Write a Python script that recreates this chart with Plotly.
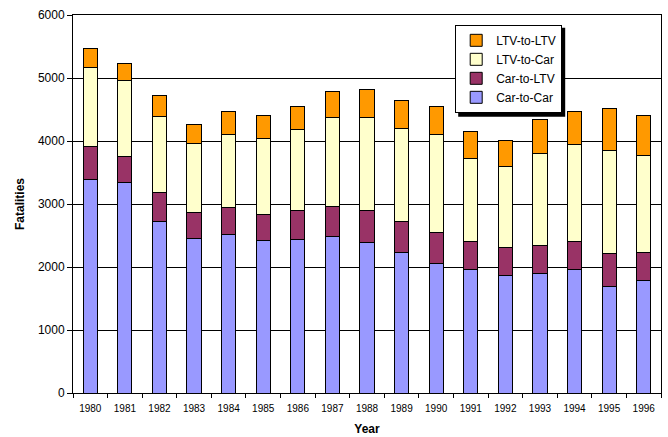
import plotly.graph_objects as go

# Values.
years = [str(y) for y in range(1980, 1997)]
car_to_car = [3395, 3337, 2728, 2458, 2511, 2421, 2442, 2489, 2394, 2235, 2050, 1960, 1859, 1901, 1960, 1690, 1780]
car_to_ltv = [519, 413, 461, 407, 439, 413, 455, 472, 498, 493, 503, 439, 450, 440, 439, 519, 450]
ltv_to_car = [1245, 1213, 1202, 1102, 1155, 1213, 1293, 1419, 1488, 1467, 1547, 1319, 1282, 1457, 1547, 1647, 1536]
ltv_to_ltv = [312, 275, 328, 291, 360, 365, 365, 413, 440, 455, 444, 440, 418, 551, 519, 662, 641]
y_ticks = [0, 1000, 2000, 3000, 4000, 5000, 6000]

series = [
    ("Car-to-Car", car_to_car, "#9999FF"),
    ("Car-to-LTV", car_to_ltv, "#993366"),
    ("LTV-to-Car", ltv_to_car, "#FFFFCC"),
    ("LTV-to-LTV", ltv_to_ltv, "#FF9900"),
]

fig = go.Figure()
for name, vals, colour in series:
    fig.add_trace(
        go.Bar(
            x=years,
            y=vals,
            name=name,
            marker={"color": colour, "line": {"color": "black", "width": 1}},
        )
    )

legend_x, legend_y = 0.65, 0.974

fig.update_layout(
    width=668,
    height=437,
    barmode="stack",
    bargap=0.59,
    plot_bgcolor="white",
    paper_bgcolor="white",
    font={"family": "Liberation Sans, Arial, sans-serif", "color": "black", "size": 12},
    margin={"l": 73, "r": 7, "t": 15, "b": 44},
    legend={
        "x": legend_x,
        "y": legend_y,
        "xanchor": "left",
        "yanchor": "top",
        "traceorder": "reversed",
        "bgcolor": "white",
        "bordercolor": "black",
        "borderwidth": 1,
        "font": {"size": 12},
        "itemwidth": 30,
        "tracegroupgap": 0,
    },
)

# Drop shadow behind the legend box.
fig.add_shape(
    type="rect",
    xref="paper", yref="paper",
    xsizemode="pixel", ysizemode="pixel",
    xanchor=legend_x, yanchor=legend_y,
    x0=3, x1=110, y0=-3, y1=-92,
    fillcolor="black", line={"width": 0},
    layer="above",
)

fig.update_xaxes(
    title_text="<b>Year</b>",
    title_font={"size": 12},
    title_standoff=11,
    tickfont={"size": 10},
    ticklabelstandoff=6,
    automargin=False,
    showline=True,
    linecolor="black",
    linewidth=1,
    mirror=True,
    ticks="outside",
    tickson="boundaries",
    ticklen=4,
    tickcolor="black",
)

fig.update_yaxes(
    title_text="<b>Fatalities</b>",
    title_font={"size": 12},
    title_standoff=10,
    range=[0, 6000],
    tickvals=y_ticks,
    tickfont={"size": 12},
    showline=True,
    linecolor="black",
    linewidth=1,
    mirror=True,
    showgrid=True,
    gridcolor="black",
    gridwidth=1,
    ticks="outside",
    ticklen=5,
    tickcolor="black",
    zeroline=False,
)

# Drop the page's default body margin so the figure sits at the window corner.
fig.write_html(
    "out.html",
    config={"displayModeBar": False},
    post_script="document.body.style.margin = '0';",
)
